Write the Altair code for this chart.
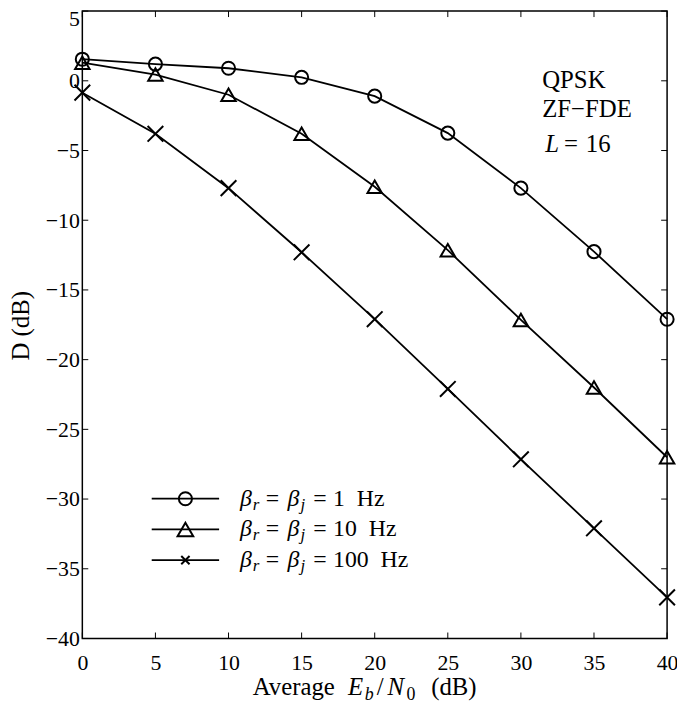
import altair as alt
import pandas as pd

# ---- data ----
EBN0 = [0, 5, 10, 15, 20, 25, 30, 35, 40]
D_1HZ = [1.55, 1.2, 0.9, 0.25, -1.1, -3.75, -7.7, -12.25, -17.1]
D_10HZ = [1.3, 0.45, -1.0, -3.8, -7.6, -12.15, -17.15, -22.0, -27.0]
D_100HZ = [-0.85, -3.8, -7.7, -12.3, -17.1, -22.1, -27.15, -32.1, -37.05]
SERIES = ["1 Hz", "10 Hz", "100 Hz"]
LEG_NUMS = ["1", "10", "100"]
XTICKS = [0, 5, 10, 15, 20, 25, 30, 35, 40]
YTICKS = [5, 0, -5, -10, -15, -20, -25, -30, -35, -40]

SERIF = "Liberation Serif"
W, H = 590, 633
TOP = 0
XCROSS = "M-1,-1L1,1M-1,1L1,-1"
SHAPES = ["circle", "triangle-up", XCROSS]
SIZES = [175, 250, 70]

rows = []
for name, vals in zip(SERIES, [D_1HZ, D_10HZ, D_100HZ]):
    for x, y in zip(EBN0, vals):
        rows.append({"snr": x, "D": y, "series": name})
df = pd.DataFrame(rows)

xs = alt.Scale(domain=[0, 40], nice=False, zero=False)
ys = alt.Scale(domain=[-40, 5], nice=False, zero=False)
color = alt.Color("series:N", scale=alt.Scale(domain=SERIES, range=["black"] * 3), legend=None)

xaxis = alt.Axis(values=XTICKS, ticks=False, tickSize=0, domain=False, grid=False, labelFont=SERIF,
                 labelFontSize=22, labelColor="black", labelPadding=14, labelFlush=False,
                 labelOverlap=False, title=None)
yaxis = alt.Axis(values=YTICKS, ticks=False, tickSize=0, domain=False, grid=False, labelFont=SERIF,
                 labelFontSize=22, labelColor="black", labelPadding=3, labelFlush=False,
                 labelOverlap=False,
                 labelOffset={"condition": {"test": "datum.value == 5", "value": 8}, "value": 0},
                 title="D (dB)", titleFont=SERIF, titleFontSize=25,
                 titleFontWeight="normal", titleColor="black", titleAngle=-90,
                 titleX=-54, titleY=317, titleAlign="center", titleBaseline="alphabetic")

X = alt.X("snr:Q", scale=xs, axis=xaxis)
Y = alt.Y("D:Q", scale=ys, axis=yaxis)

base = alt.Chart(df)
lines = base.mark_line(strokeWidth=1.8).encode(
    x=X, y=Y, color=color, detail="series:N", order="snr:Q",
)
points = base.mark_point(filled=False, strokeWidth=2, opacity=1).encode(
    x=X, y=Y,
    shape=alt.Shape("series:N", scale=alt.Scale(domain=SERIES, range=SHAPES), legend=None),
    size=alt.Size("series:N", scale=alt.Scale(domain=SERIES, range=SIZES), legend=None),
    color=color,
)

# inward ticks on all four sides
xt = alt.Chart(pd.DataFrame({"snr": XTICKS}))
yt = alt.Chart(pd.DataFrame({"D": YTICKS}))
tick_style = dict(color="black", strokeWidth=1)
tb = xt.mark_rule(**tick_style).encode(x=X, y=alt.value(H), y2=alt.value(H - 6))
tt = xt.mark_rule(**tick_style).encode(x=X, y=alt.value(0), y2=alt.value(6))
tl = yt.mark_rule(**tick_style).encode(y=Y, x=alt.value(0), x2=alt.value(6))
tr = yt.mark_rule(**tick_style).encode(y=Y, x=alt.value(W - 6), x2=alt.value(W))

one = pd.DataFrame({"k": [0]})


def txt(s, x, y, size=23, italic=False, align="left"):
    return alt.Chart(one).mark_text(
        text=s, font=SERIF, fontSize=size, fontStyle="italic" if italic else "normal",
        align=align, baseline="alphabetic", color="black",
    ).encode(x=alt.value(x), y=alt.value(y))


layers = [lines, points, tb, tt, tl, tr]

# x-axis title: Average E_b/N_0 (dB)
XT_Y = 690
layers += [
    txt("Average", 172, XT_Y, 25),
    txt("E", 268, XT_Y, 25, italic=True),
    txt("b", 285, XT_Y + 5, 18, italic=True),
    txt("/", 297, XT_Y, 25),
    txt("N", 308, XT_Y, 25, italic=True),
    txt("0", 327, XT_Y + 5, 18),
    txt("(dB)", 352, XT_Y, 25),
]

# annotation
layers += [
    txt("QPSK", 464, 78, 25),
    txt("ZF\u2212FDE", 464, 107, 25),
    txt("L", 467, 142, 25, italic=True),
    txt("=", 486, 142, 25),
    txt("16", 508, 142, 25),
]

# legend
LEG_ROWS = [492, 523, 554]
for row, num, shp, sz in zip(LEG_ROWS, LEG_NUMS, SHAPES, SIZES):
    layers.append(alt.Chart(one).mark_rule(color="black", strokeWidth=1.8).encode(
        x=alt.value(70), x2=alt.value(138), y=alt.value(row)))
    layers.append(alt.Chart(one).mark_point(shape=shp, size=sz, filled=False, strokeWidth=2,
                                            color="black", opacity=1).encode(
        x=alt.value(104), y=alt.value(row)))
    b = row + 7
    layers += [
        txt("\u03b2", 159, b, 24, italic=True),
        txt("r", 172, b + 4, 17, italic=True),
        txt("=", 185, b, 24),
        txt("\u03b2", 207, b, 24, italic=True),
        txt("j", 220, b + 4, 17, italic=True),
        txt("=", 233, b, 24),
        txt(num + "\u2002Hz", 253, b, 24),
    ]

chart = alt.layer(*layers).properties(
    width=W, height=H,
    autosize=alt.AutoSizeParams(type="none"),
    padding={"left": 75, "top": TOP, "right": 10, "bottom": 65},
    background="white",
).configure_view(stroke="black", strokeWidth=1.5).configure_axis(
    labelFont=SERIF, titleFont=SERIF, labelFontSize=22, labelColor="black"
)

chart.save("out.html", embed_options={"renderer": "svg", "actions": False})
